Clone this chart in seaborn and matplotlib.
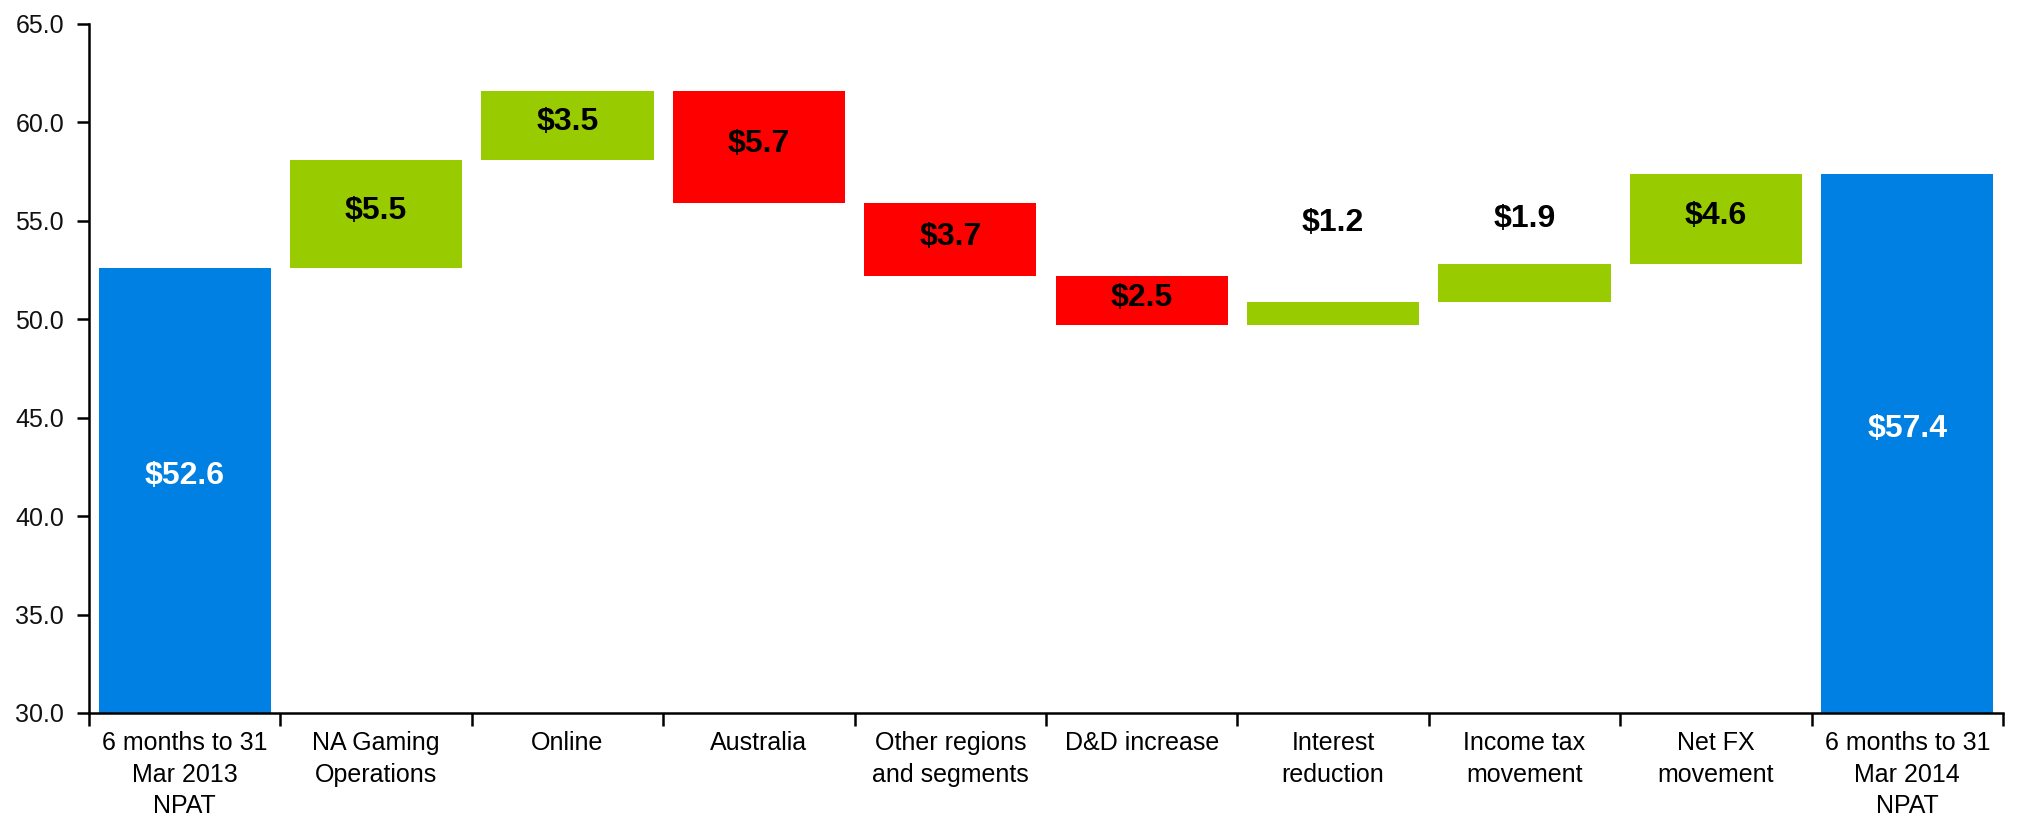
import numpy as np
import pandas as pd
import matplotlib
matplotlib.use("Agg")
import matplotlib.pyplot as plt
import seaborn as sns

# NPAT bridge, A$ millions
categories = [
    "6 months to 31\nMar 2013\nNPAT",
    "NA Gaming\nOperations",
    "Online",
    "Australia",
    "Other regions\nand segments",
    "D&D increase",
    "Interest\nreduction",
    "Income tax\nmovement",
    "Net FX\nmovement",
    "6 months to 31\nMar 2014\nNPAT",
]
start_total = 52.6
changes = [5.5, 3.5, -5.7, -3.7, -2.5, 1.2, 1.9, 4.6]
end_total = 57.4
value_labels = ["$52.6", "$5.5", "$3.5", "$5.7", "$3.7", "$2.5",
                "$1.2", "$1.9", "$4.6", "$57.4"]
y_ticks = [30.0, 35.0, 40.0, 45.0, 50.0, 55.0, 60.0, 65.0]

# Build floating segments from the running total
running = np.concatenate([[start_total], start_total + np.cumsum(changes)])
bottoms = [0.0]
heights = [start_total]
kinds = ["total"]
for prev, cur, ch in zip(running[:-1], running[1:], changes):
    bottoms.append(min(prev, cur))
    heights.append(abs(ch))
    kinds.append("up" if ch > 0 else "down")
bottoms.append(0.0)
heights.append(end_total)
kinds.append("total")

df = pd.DataFrame({"category": categories, "height": heights,
                   "bottom": bottoms, "kind": kinds})

colors = {"total": "#0080E2", "up": "#99CC00", "down": "#FF0000"}
# labels for thin bars sit above the segment (offset in data units)
label_above = {6: 4.0, 7: 2.3}

sns.set_style("white")
plt.rcParams["font.family"] = ["Liberation Sans", "DejaVu Sans"]

fig = plt.figure(figsize=(20.19, 8.21), dpi=100)
ax = fig.add_axes([89 / 2019, 1 - 713 / 821, (2003 - 89) / 2019, (713 - 24) / 821])

sns.barplot(data=df, x="category", y="height", bottom=df["bottom"].values,
            color="#0080E2", width=0.9, linewidth=0, errorbar=None, ax=ax)
for patch, k in zip(ax.patches, df["kind"]):
    patch.set_facecolor(colors[k])
    patch.set_edgecolor("none")

ax.set_ylim(30, 65)
ax.set_xlim(-0.5, len(categories) - 0.5)
ax.set_yticks(y_ticks)
ax.set_yticklabels([f"{v:.1f}" for v in y_ticks])
ax.set_xlabel("")
ax.set_ylabel("")

# category labels centred, boundary ticks between categories
ax.set_xticks(range(len(categories)))
ax.set_xticklabels(categories, fontsize=18, linespacing=1.4)
ax.set_xticks(np.arange(-0.5, len(categories), 1.0), minor=True)
ax.tick_params(axis="x", which="major", length=0, pad=13, colors="black")
ax.tick_params(axis="x", which="minor", length=9, width=1.8, color="black", direction="out")
ax.tick_params(axis="y", which="major", length=9, width=1.8, color="black",
               direction="out", labelsize=18, pad=9, labelcolor="#111111")
ax.tick_params(axis="x", which="minor", bottom=True)
ax.tick_params(axis="y", which="major", left=True)

for side in ["top", "right"]:
    ax.spines[side].set_visible(False)
for side in ["left", "bottom"]:
    ax.spines[side].set_color("black")
    ax.spines[side].set_linewidth(1.8)

# value labels
for i, (b, h, k, lab) in enumerate(zip(df["bottom"], df["height"], df["kind"], value_labels)):
    top = b + h
    lo = max(b, 30.0)
    if i in label_above:
        y = top + label_above[i]
    elif k == "total":
        y = (lo + top) / 2 + 0.75
    else:
        y = (lo + top) / 2 + 0.15
    ax.text(i, y, lab, ha="center", va="center", fontsize=23, fontweight="bold",
            color="white" if k == "total" else "black")

fig.savefig("out.png", dpi=100)
